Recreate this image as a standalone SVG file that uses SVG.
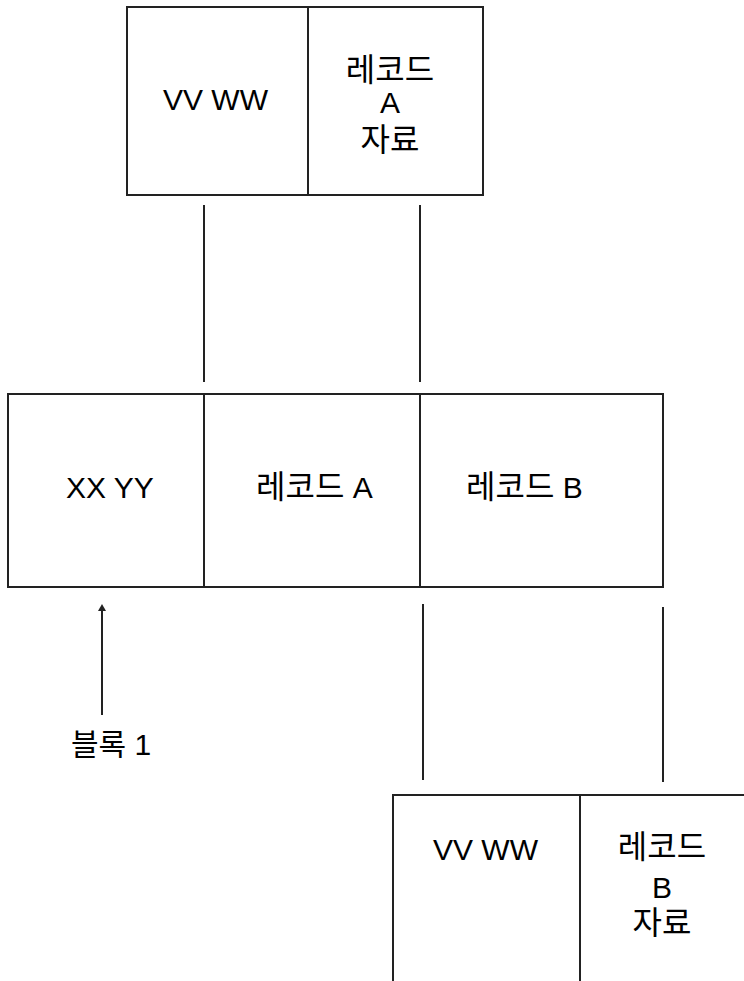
<svg xmlns="http://www.w3.org/2000/svg" width="744" height="981" viewBox="0 0 744 981">
<style>
.box{fill:#fff;stroke:#222;stroke-width:2}
.div{stroke:#222;stroke-width:2}
.conn{stroke:#222;stroke-width:2;fill:none}
text{font-family:"Liberation Sans","Noto Sans CJK KR",sans-serif;font-size:30px;fill:#000}
.m{text-anchor:middle}
.k{font-size:32px}
</style>
<defs>
<marker id="ah" markerWidth="8" markerHeight="8" refX="4" refY="4" orient="auto" markerUnits="userSpaceOnUse">
<path d="M0,7 L4,0 L8,7 Z" fill="#222" transform="rotate(90 4 4)"/>
</marker>
</defs>
<rect width="744" height="981" fill="#fff"/>
<g id="recordA">
<rect class="box" x="127" y="7" width="356" height="188"/>
<line class="div" x1="308" y1="7" x2="308" y2="195"/>
<text x="163" y="110">VV WW</text>
<text class="m k" x="390" y="81">레코드</text>
<text class="m" x="390" y="113">A</text>
<text class="m k" x="390" y="151">자료</text>
</g>
<g id="block1">
<rect class="box" x="8" y="394" width="655" height="193"/>
<line class="div" x1="204" y1="394" x2="204" y2="587"/>
<line class="div" x1="420" y1="394" x2="420" y2="587"/>
<text x="66" y="498">XX YY</text>
<text x="256" y="498"><tspan class="k">레코드</tspan> A</text>
<text x="466" y="498"><tspan class="k">레코드</tspan> B</text>
</g>
<g id="recordB">
<rect class="box" x="393" y="795" width="400" height="250"/>
<line class="div" x1="580" y1="795" x2="580" y2="981"/>
<text x="433" y="860">VV WW</text>
<text class="m k" x="662" y="858">레코드</text>
<text class="m" x="662" y="898">B</text>
<text class="m k" x="662" y="934">자료</text>
</g>
<g id="label">
<text x="71" y="755">블록 1</text>
</g>
<g id="connectors">
<line class="conn" x1="204" y1="205" x2="204" y2="382"/>
<line class="conn" x1="420" y1="205" x2="420" y2="382"/>
<line class="conn" x1="423" y1="604" x2="423" y2="780"/>
<line class="conn" x1="663" y1="607" x2="663" y2="782"/>
<path class="conn" d="M102,715 L102,608" marker-end="url(#ah)"/>
</g>
</svg>
